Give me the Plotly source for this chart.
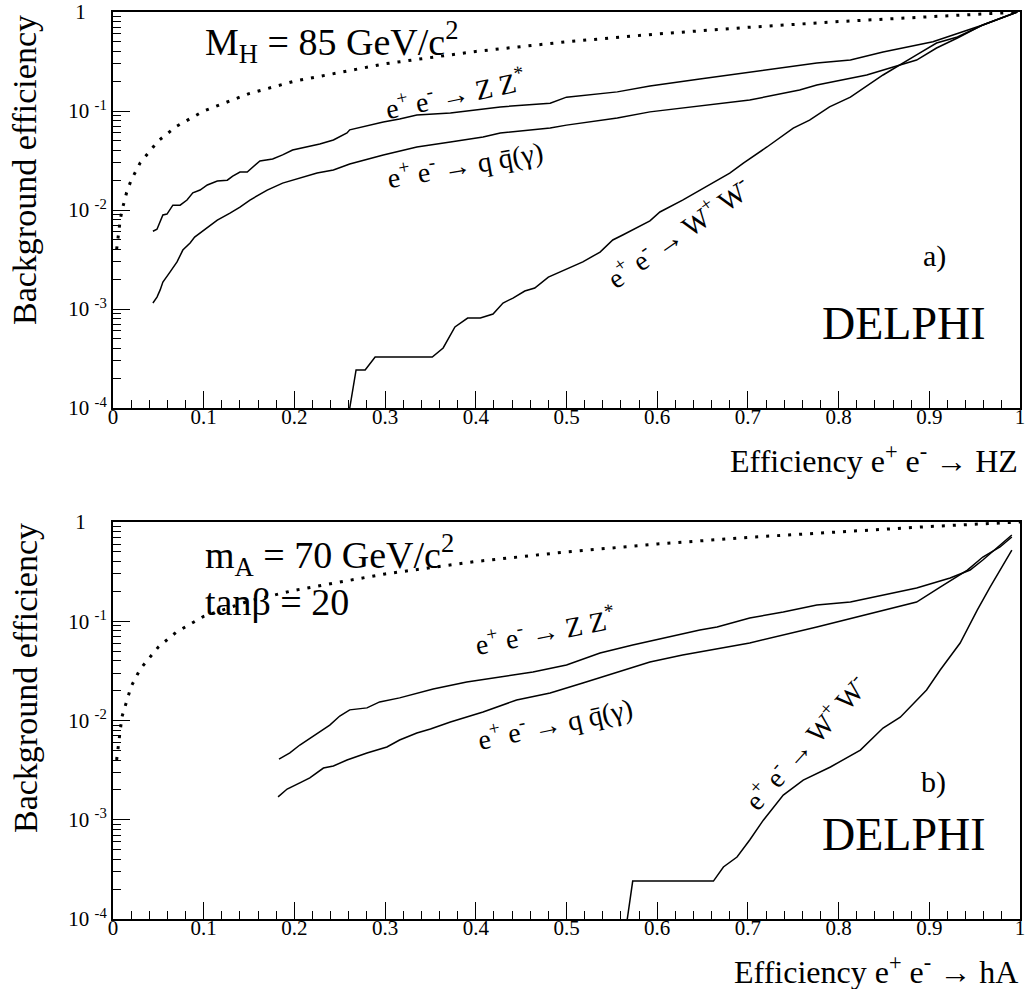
import plotly.graph_objects as go

# ---------------- data ----------------
# panel a : M_H = 85 GeV/c^2
diag_a_x = [0.004, 0.006, 0.008, 0.01, 0.015, 0.02, 0.03, 0.05, 0.07, 0.1, 0.15, 0.2, 0.3, 0.4, 0.5, 0.6, 0.7, 0.8, 0.9, 1.0]
diag_a_y = [0.004, 0.006, 0.008, 0.01, 0.015, 0.02, 0.03, 0.05, 0.07, 0.1, 0.15, 0.2, 0.3, 0.4, 0.5, 0.6, 0.7, 0.8, 0.9, 1.0]

zz_a_x = [0.044, 0.0485, 0.055, 0.0595, 0.066, 0.074, 0.0816, 0.088, 0.096, 0.104, 0.115, 0.126, 0.132, 0.140,
          0.148, 0.154, 0.162, 0.176, 0.187, 0.198, 0.214, 0.228, 0.243, 0.258, 0.261, 0.298, 0.316, 0.335,
          0.372, 0.427, 0.482, 0.50, 0.556, 0.592, 0.647, 0.702, 0.776, 0.813, 0.849, 0.904, 0.931, 0.959, 0.997]
zz_a_y = [6.1e-3, 6.4e-3, 8.9e-3, 9.1e-3, 1.12e-2, 1.12e-2, 1.26e-2, 1.49e-2, 1.59e-2, 1.79e-2, 1.96e-2, 2.0e-2,
          2.2e-2, 2.42e-2, 2.42e-2, 2.72e-2, 3.13e-2, 3.27e-2, 3.6e-2, 4.04e-2, 4.33e-2, 4.64e-2, 5.1e-2, 6.0e-2,
          6.45e-2, 7.74e-2, 8.3e-2, 9.1e-2, 9.55e-2, 0.11, 0.12, 0.138, 0.156, 0.179, 0.21, 0.248, 0.305, 0.327,
          0.394, 0.50, 0.61, 0.74, 1.0]

qq_a_x = [0.044, 0.0485, 0.052, 0.055, 0.063, 0.0706, 0.077, 0.085, 0.090, 0.104, 0.115, 0.129, 0.140, 0.151,
          0.170, 0.187, 0.206, 0.225, 0.243, 0.261, 0.298, 0.335, 0.372, 0.408, 0.427, 0.482, 0.50, 0.556,
          0.592, 0.647, 0.702, 0.757, 0.776, 0.831, 0.886, 0.908, 0.931, 0.959, 0.997]
qq_a_y = [1.15e-3, 1.32e-3, 1.56e-3, 1.87e-3, 2.37e-3, 2.99e-3, 3.94e-3, 4.64e-3, 5.33e-3, 6.58e-3, 7.9e-3,
          9.3e-3, 1.07e-2, 1.26e-2, 1.59e-2, 1.87e-2, 2.1e-2, 2.36e-2, 2.54e-2, 2.92e-2, 3.6e-2, 4.33e-2,
          4.86e-2, 5.46e-2, 6.0e-2, 6.73e-2, 7.2e-2, 8.5e-2, 9.8e-2, 0.112, 0.129, 0.163, 0.183, 0.231, 0.327,
          0.433, 0.546, 0.74, 1.0]

ww_a_x = [0.261, 0.268, 0.278, 0.289, 0.352, 0.364, 0.377, 0.391, 0.405, 0.419, 0.430, 0.441, 0.454, 0.465,
          0.480, 0.504, 0.518, 0.537, 0.551, 0.562, 0.573, 0.592, 0.603, 0.628, 0.680, 0.695, 0.721, 0.750,
          0.768, 0.790, 0.813, 0.849, 0.886, 0.908, 0.931, 0.959, 0.997]
ww_a_y = [1.0e-4, 2.42e-4, 2.42e-4, 3.27e-4, 3.27e-4, 4.04e-4, 6.58e-4, 8.1e-4, 8.1e-4, 8.9e-4, 1.15e-3,
          1.29e-3, 1.52e-3, 1.63e-3, 2.1e-3, 2.6e-3, 2.99e-3, 3.76e-3, 4.98e-3, 5.59e-3, 6.28e-3, 7.76e-3,
          9.55e-3, 1.26e-2, 2.36e-2, 2.98e-2, 4.33e-2, 6.73e-2, 8.1e-2, 0.11, 0.138, 0.231, 0.368, 0.486,
          0.559, 0.74, 1.0]

# panel b : m_A = 70 GeV/c^2, tan(beta) = 20
diag_b_x = [0.004, 0.006, 0.008, 0.01, 0.015, 0.02, 0.03, 0.05, 0.07, 0.1, 0.15, 0.2, 0.3, 0.4, 0.5, 0.6, 0.7, 0.8, 0.9, 1.0]
diag_b_y = [0.004, 0.006, 0.008, 0.011, 0.016, 0.022, 0.033, 0.055, 0.078, 0.112, 0.16, 0.205, 0.3, 0.4, 0.5, 0.6, 0.7, 0.8, 0.9, 1.0]

zz_b_x = [0.183, 0.195, 0.206, 0.223, 0.239, 0.250, 0.261, 0.280, 0.294, 0.316, 0.353, 0.390, 0.427, 0.463,
          0.50, 0.537, 0.573, 0.611, 0.647, 0.666, 0.702, 0.739, 0.776, 0.813, 0.849, 0.886, 0.923, 0.945,
          0.959, 0.978, 0.991]
zz_b_y = [4.09e-3, 4.71e-3, 5.66e-3, 7.14e-3, 9.0e-3, 1.11e-2, 1.28e-2, 1.34e-2, 1.54e-2, 1.69e-2, 2.08e-2,
          2.44e-2, 2.74e-2, 3.08e-2, 3.62e-2, 4.79e-2, 5.77e-2, 6.94e-2, 8.16e-2, 8.75e-2, 0.108, 0.124,
          0.146, 0.156, 0.184, 0.216, 0.273, 0.328, 0.414, 0.586, 0.74]

qq_b_x = [0.182, 0.192, 0.206, 0.217, 0.232, 0.243, 0.258, 0.280, 0.302, 0.316, 0.335, 0.350, 0.372, 0.408,
          0.445, 0.482, 0.518, 0.556, 0.592, 0.628, 0.702, 0.776, 0.831, 0.886, 0.912, 0.942, 0.959, 0.978, 0.991]
qq_b_y = [1.7e-3, 2.04e-3, 2.35e-3, 2.64e-3, 3.32e-3, 3.48e-3, 4.0e-3, 4.71e-3, 5.41e-3, 6.36e-3, 7.48e-3,
          8.2e-3, 9.66e-3, 1.22e-2, 1.61e-2, 1.89e-2, 2.39e-2, 3.08e-2, 3.88e-2, 4.57e-2, 6.04e-2, 8.75e-2,
          0.116, 0.156, 0.221, 0.328, 0.444, 0.56, 0.706]

ww_b_x = [0.567, 0.573, 0.662, 0.673, 0.688, 0.702, 0.717, 0.739, 0.761, 0.791, 0.824, 0.849, 0.868, 0.897,
          0.912, 0.934, 0.953, 0.967, 0.991]
ww_b_y = [1.0e-4, 2.41e-4, 2.41e-4, 3.34e-4, 4.21e-4, 6.25e-4, 9.9e-4, 1.77e-3, 2.51e-3, 3.4e-3, 5.04e-3,
          8.4e-3, 1.08e-2, 2.03e-2, 3.23e-2, 6.04e-2, 0.13, 0.221, 0.52]

# tick definitions
x_major = [0, 0.1, 0.2, 0.3, 0.4, 0.5, 0.6, 0.7, 0.8, 0.9, 1.0]
x_major_text = ["0", "0.1", "0.2", "0.3", "0.4", "0.5", "0.6", "0.7", "0.8", "0.9", "1"]
y_exponents = [-4, -3, -2, -1, 0]
y_major_text = ["10\u00a0<sup>-4</sup>", "10\u00a0<sup>-3</sup>", "10\u00a0<sup>-2</sup>", "10\u00a0<sup>-1</sup>",
                "1\u00a0\u00a0\u00a0\u00a0"]
y_minor_mult = [2, 3, 4, 5, 6, 7, 8, 9]

# ---------------- figure ----------------
W, H = 1025, 989
FONT = "Liberation Serif"
BLACK = "black"

def px_x(p):
    return p / W

def px_y(p):
    return 1 - p / H

fig = go.Figure()

panels = [
    dict(xa="x", ya="y", diag=(diag_a_x, diag_a_y), zz=(zz_a_x, zz_a_y), qq=(qq_a_x, qq_a_y), ww=(ww_a_x, ww_a_y)),
    dict(xa="x2", ya="y2", diag=(diag_b_x, diag_b_y), zz=(zz_b_x, zz_b_y), qq=(qq_b_x, qq_b_y), ww=(ww_b_x, ww_b_y)),
]
for p in panels:
    fig.add_trace(go.Scatter(x=p["diag"][0], y=p["diag"][1], mode="lines", xaxis=p["xa"], yaxis=p["ya"],
                             line=dict(color=BLACK, width=3, dash="3px,8px"), showlegend=False))
    for key in ("zz", "qq", "ww"):
        fig.add_trace(go.Scatter(x=p[key][0], y=p[key][1], mode="lines", xaxis=p["xa"], yaxis=p["ya"],
                                 line=dict(color=BLACK, width=1.5), showlegend=False))

y_minor_vals = [m * 10 ** e for e in y_exponents[:-1] for m in y_minor_mult]
y_major_vals = [10 ** e for e in y_exponents]

TICKFONT = dict(family=FONT, size=21, color=BLACK)

def xaxis_cfg(anchor):
    return dict(domain=[px_x(113), px_x(1020)], range=[0, 1], anchor=anchor, automargin=False,
                showline=True, linecolor=BLACK, linewidth=2, mirror=True,
                ticks="inside", ticklen=17, tickwidth=1, tickcolor=BLACK,
                tickmode="array", tickvals=x_major, ticktext=x_major_text,
                ticklabelstandoff=-11, ticklabeloverflow="allow",
                minor=dict(ticks="inside", ticklen=8, tickwidth=1, tickcolor=BLACK, dtick=0.02, tick0=0, showgrid=False),
                showgrid=False, zeroline=False,
                tickfont=TICKFONT)

def yaxis_cfg(anchor, top, bottom):
    return dict(domain=[px_y(bottom), px_y(top)], type="log", range=[-4, 0], anchor=anchor, automargin=False,
                showline=True, linecolor=BLACK, linewidth=2, mirror=True,
                ticks="inside", ticklen=17, tickwidth=1, tickcolor=BLACK,
                tickmode="array", tickvals=y_major_vals, ticktext=y_major_text,
                ticklabeloverflow="allow",
                minor=dict(ticks="inside", ticklen=8, tickwidth=1, tickcolor=BLACK,
                           tickmode="array", tickvals=y_minor_vals, showgrid=False),
                showgrid=False, zeroline=False,
                tickfont=TICKFONT)

fig.update_layout(
    template="none",
    width=W, height=H,
    margin=dict(l=0, r=0, t=0, b=0, pad=0, autoexpand=False),
    paper_bgcolor="white", plot_bgcolor="white",
    font=dict(family=FONT, size=21, color=BLACK),
    xaxis=xaxis_cfg("y"), yaxis=yaxis_cfg("x", 12, 408),
    xaxis2=xaxis_cfg("y2"), yaxis2=yaxis_cfg("x2", 522, 919),
)

def ann(text, x, y, size, angle=0, xanchor="center", yanchor="middle"):
    fig.add_annotation(text=text, x=px_x(x), y=px_y(y), xref="paper", yref="paper",
                       showarrow=False, textangle=angle, xanchor=xanchor, yanchor=yanchor,
                       font=dict(family=FONT, size=size, color=BLACK))

# axis titles
ann("Background efficiency", 25, 170, 34, angle=-90)
ann("Background efficiency", 25, 678, 34, angle=-90)
ann("Efficiency e<sup>+</sup> e<sup>-</sup> → HZ", 1020, 459, 32, xanchor="right")
ann("Efficiency e<sup>+</sup> e<sup>-</sup> → hA", 1020, 970, 32, xanchor="right")

# panel texts
ann("M<sub>H</sub> = 85 GeV/c<sup>2</sup>", 203, 42, 38, xanchor="left")
ann("m<sub>A</sub> = 70 GeV/c<sup>2</sup>", 203, 555, 38, xanchor="left")
ann("tanβ = 20", 203, 602, 38, xanchor="left")
ann("a)", 934, 256, 30)
ann("b)", 933, 782, 30)
ann("DELPHI", 904, 323, 46)
ann("DELPHI", 904, 834, 46)

# curve labels
ann("e<sup>+</sup> e<sup>-</sup> → Z Z<sup>*</sup>", 455, 93, 28, angle=-12)
ann("e<sup>+</sup> e<sup>-</sup> → q q̄(γ)", 465, 163, 28, angle=-10)
ann("e<sup>+</sup> e<sup>-</sup> → W<sup>+</sup> W<sup>-</sup>", 678, 232, 28, angle=-35)
ann("e<sup>+</sup> e<sup>-</sup> → Z Z<sup>*</sup>", 545, 630, 28, angle=-11)
ann("e<sup>+</sup> e<sup>-</sup> → q q̄(γ)", 555, 722, 28, angle=-12)
ann("e<sup>+</sup> e<sup>-</sup> → W<sup>+</sup> W<sup>-</sup>", 805, 742, 28, angle=-48)

fig.write_html("out.html")
